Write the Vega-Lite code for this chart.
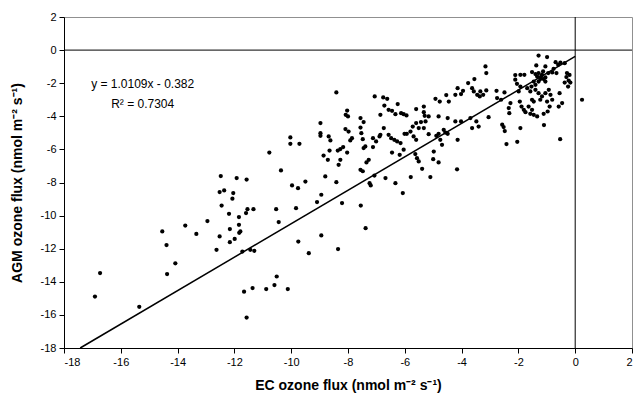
{
  "$schema": "https://vega.github.io/schema/vega-lite/v6.json",
  "autosize": {"type": "none"},
  "padding": {"left": 64, "top": 17, "right": 4, "bottom": 60},
  "width": 568,
  "height": 331,
  "background": "white",
  "config": {
    "view": {"stroke": "#909090", "strokeWidth": 1},
    "axis": {
      "grid": false,
      "domainColor": "black",
      "tickColor": "black",
      "labelColor": "black",
      "titleColor": "black",
      "labelFont": "Liberation Sans",
      "labelFontSize": 11,
      "titleFont": "Liberation Sans",
      "titleFontSize": 14,
      "titleFontWeight": "bold",
      "tickSize": 5,
      "labelPadding": 3
    }
  },
  "datasets": {
    "pts": [
      {"x": -16.91, "y": -14.89}, {"x": -16.73, "y": -13.47}, {"x": -15.35, "y": -15.51},
      {"x": -14.54, "y": -10.96}, {"x": -14.39, "y": -11.78}, {"x": -14.37, "y": -13.53},
      {"x": -14.08, "y": -12.88}, {"x": -13.73, "y": -10.6}, {"x": -13.34, "y": -11.11},
      {"x": -12.95, "y": -10.33}, {"x": -12.63, "y": -12.07}, {"x": -12.52, "y": -11.26},
      {"x": -12.48, "y": -7.61}, {"x": -12.45, "y": -9.39}, {"x": -12.52, "y": -8.58},
      {"x": -12.36, "y": -8.48}, {"x": -12.19, "y": -9.89}, {"x": -12.16, "y": -10.81},
      {"x": -12.16, "y": -11.61}, {"x": -12.07, "y": -8.98}, {"x": -12.04, "y": -8.64},
      {"x": -11.99, "y": -11.41}, {"x": -11.92, "y": -7.73}, {"x": -11.84, "y": -10.09},
      {"x": -11.84, "y": -10.56}, {"x": -11.83, "y": -11.04}, {"x": -11.79, "y": -10.96},
      {"x": -11.72, "y": -12.17}, {"x": -11.66, "y": -14.6}, {"x": -11.59, "y": -9.85},
      {"x": -11.57, "y": -7.82}, {"x": -11.57, "y": -16.16}, {"x": -11.54, "y": -9.61},
      {"x": -11.44, "y": -12.07}, {"x": -11.36, "y": -14.38}, {"x": -11.33, "y": -9.61},
      {"x": -11.3, "y": -12.13}, {"x": -10.88, "y": -14.44}, {"x": -10.77, "y": -6.19},
      {"x": -10.59, "y": -14.2}, {"x": -10.53, "y": -9.61}, {"x": -10.51, "y": -13.68},
      {"x": -10.44, "y": -10.39}, {"x": -10.36, "y": -7.27}, {"x": -10.12, "y": -14.44},
      {"x": -10.03, "y": -5.28}, {"x": -10.03, "y": -5.66}, {"x": -9.97, "y": -8.18},
      {"x": -9.83, "y": -9.55}, {"x": -9.76, "y": -8.34}, {"x": -9.75, "y": -11.57},
      {"x": -9.71, "y": -5.66}, {"x": -9.5, "y": -7.94}, {"x": -9.38, "y": -12.27},
      {"x": -9.09, "y": -9.18}, {"x": -8.97, "y": -4.41}, {"x": -8.97, "y": -5.02},
      {"x": -8.97, "y": -5.18}, {"x": -8.94, "y": -8.74}, {"x": -8.94, "y": -11.2},
      {"x": -8.86, "y": -6.37}, {"x": -8.8, "y": -7.63}, {"x": -8.71, "y": -6.63},
      {"x": -8.68, "y": -5.22}, {"x": -8.65, "y": -6.07}, {"x": -8.62, "y": -5.46},
      {"x": -8.41, "y": -2.56}, {"x": -8.41, "y": -7.98}, {"x": -8.36, "y": -6.07},
      {"x": -8.35, "y": -12.02}, {"x": -8.33, "y": -6.93}, {"x": -8.27, "y": -5.98},
      {"x": -8.27, "y": -6.63}, {"x": -8.21, "y": -9.24}, {"x": -8.17, "y": -5.86},
      {"x": -8.09, "y": -4.77}, {"x": -8.08, "y": -3.91}, {"x": -8.03, "y": -3.65},
      {"x": -8.0, "y": -4.01}, {"x": -8.03, "y": -6.19}, {"x": -7.98, "y": -4.92},
      {"x": -7.92, "y": -5.46}, {"x": -7.86, "y": -5.32}, {"x": -7.56, "y": -4.11},
      {"x": -7.56, "y": -4.68}, {"x": -7.56, "y": -7.23}, {"x": -7.55, "y": -9.39},
      {"x": -7.53, "y": -5.02}, {"x": -7.48, "y": -7.32}, {"x": -7.48, "y": -5.38},
      {"x": -7.45, "y": -4.35}, {"x": -7.45, "y": -5.92}, {"x": -7.39, "y": -5.82},
      {"x": -7.38, "y": -10.76}, {"x": -7.35, "y": -6.79}, {"x": -7.27, "y": -6.63},
      {"x": -7.24, "y": -8.04}, {"x": -7.2, "y": -8.18}, {"x": -7.12, "y": -5.32},
      {"x": -7.12, "y": -5.86}, {"x": -7.07, "y": -7.58}, {"x": -7.06, "y": -2.8},
      {"x": -7.01, "y": -5.52}, {"x": -6.89, "y": -5.22}, {"x": -6.86, "y": -3.91},
      {"x": -6.76, "y": -2.86}, {"x": -6.62, "y": -2.94}, {"x": -6.72, "y": -3.35},
      {"x": -6.57, "y": -3.61}, {"x": -6.45, "y": -3.67}, {"x": -6.33, "y": -3.87},
      {"x": -6.25, "y": -3.26}, {"x": -6.13, "y": -3.81}, {"x": -6.04, "y": -3.87},
      {"x": -5.94, "y": -3.95}, {"x": -6.74, "y": -4.71}, {"x": -6.86, "y": -5.12},
      {"x": -6.57, "y": -5.12}, {"x": -6.48, "y": -5.32}, {"x": -6.37, "y": -5.42},
      {"x": -6.27, "y": -5.52}, {"x": -6.15, "y": -5.62}, {"x": -6.01, "y": -5.06},
      {"x": -5.93, "y": -5.06}, {"x": -6.45, "y": -6.19}, {"x": -6.18, "y": -6.33},
      {"x": -6.04, "y": -6.02}, {"x": -6.68, "y": -7.73}, {"x": -6.33, "y": -8.04},
      {"x": -6.07, "y": -8.64}, {"x": -5.79, "y": -7.67}, {"x": -5.1, "y": -7.67},
      {"x": -5.8, "y": -4.92}, {"x": -5.72, "y": -4.62}, {"x": -5.69, "y": -5.22},
      {"x": -5.6, "y": -5.42}, {"x": -5.6, "y": -4.41}, {"x": -5.43, "y": -4.35},
      {"x": -5.27, "y": -4.31}, {"x": -5.51, "y": -4.71}, {"x": -5.33, "y": -4.71},
      {"x": -5.6, "y": -3.56}, {"x": -5.33, "y": -3.41}, {"x": -5.33, "y": -3.75},
      {"x": -5.3, "y": -3.97}, {"x": -5.16, "y": -4.01}, {"x": -5.63, "y": -6.28},
      {"x": -5.57, "y": -6.53}, {"x": -5.51, "y": -6.73}, {"x": -5.39, "y": -7.17},
      {"x": -4.98, "y": -6.13}, {"x": -5.0, "y": -6.59}, {"x": -4.81, "y": -6.79},
      {"x": -4.92, "y": -2.94}, {"x": -4.77, "y": -3.11}, {"x": -4.54, "y": -2.72},
      {"x": -4.45, "y": -3.11}, {"x": -4.22, "y": -2.7}, {"x": -4.14, "y": -2.3},
      {"x": -4.02, "y": -2.66}, {"x": -3.95, "y": -2.46}, {"x": -3.77, "y": -1.99},
      {"x": -4.81, "y": -4.01}, {"x": -4.49, "y": -4.11}, {"x": -4.22, "y": -4.31},
      {"x": -4.02, "y": -4.31}, {"x": -4.89, "y": -5.18}, {"x": -4.81, "y": -5.06},
      {"x": -4.75, "y": -5.42}, {"x": -4.69, "y": -5.72}, {"x": -4.63, "y": -4.82},
      {"x": -4.57, "y": -4.98}, {"x": -4.49, "y": -5.06}, {"x": -4.14, "y": -5.42},
      {"x": -4.16, "y": -7.2}, {"x": -5.16, "y": -5.08}, {"x": -3.55, "y": -1.75},
      {"x": -3.63, "y": -2.3}, {"x": -3.57, "y": -2.5}, {"x": -3.45, "y": -2.7},
      {"x": -3.34, "y": -2.5}, {"x": -3.13, "y": -2.44}, {"x": -3.24, "y": -2.7},
      {"x": -3.36, "y": -2.8}, {"x": -3.16, "y": -0.99}, {"x": -3.13, "y": -1.39},
      {"x": -2.77, "y": -2.46}, {"x": -2.49, "y": -2.56}, {"x": -2.75, "y": -2.9},
      {"x": -2.61, "y": -3.0}, {"x": -3.05, "y": -4.05}, {"x": -3.48, "y": -4.31},
      {"x": -3.4, "y": -4.62}, {"x": -3.69, "y": -4.11}, {"x": -3.63, "y": -4.71},
      {"x": -2.57, "y": -4.51}, {"x": -2.52, "y": -4.65}, {"x": -2.48, "y": -4.89},
      {"x": -2.42, "y": -5.68}, {"x": -2.04, "y": -5.54}, {"x": -1.93, "y": -4.71},
      {"x": -1.1, "y": -4.53}, {"x": -0.53, "y": -5.38}, {"x": -2.28, "y": -3.2},
      {"x": -2.34, "y": -3.5}, {"x": -2.32, "y": -3.81}, {"x": -2.11, "y": -1.51},
      {"x": -1.93, "y": -1.49}, {"x": -1.79, "y": -1.49}, {"x": -2.11, "y": -1.79},
      {"x": -2.05, "y": -2.04}, {"x": -1.93, "y": -2.2}, {"x": -1.99, "y": -2.5},
      {"x": -1.69, "y": -2.3}, {"x": -1.58, "y": -2.5}, {"x": -1.54, "y": -2.2},
      {"x": -1.95, "y": -3.11}, {"x": -1.89, "y": -3.41}, {"x": -1.81, "y": -3.61},
      {"x": -1.75, "y": -3.75}, {"x": -1.64, "y": -3.41}, {"x": -1.52, "y": -3.61},
      {"x": -1.58, "y": -3.85}, {"x": -1.46, "y": -3.91}, {"x": -1.34, "y": -4.01},
      {"x": -1.52, "y": -3.0}, {"x": -1.46, "y": -3.11}, {"x": -1.23, "y": -3.0},
      {"x": -0.99, "y": -3.11}, {"x": -0.9, "y": -3.41}, {"x": -0.97, "y": -3.71},
      {"x": -1.11, "y": -3.85}, {"x": -0.81, "y": -3.0}, {"x": -0.55, "y": -2.6},
      {"x": -0.46, "y": -3.2}, {"x": -0.58, "y": -3.41}, {"x": -1.4, "y": -2.4},
      {"x": -1.29, "y": -2.6}, {"x": -1.17, "y": -2.8}, {"x": -1.05, "y": -2.6},
      {"x": -0.93, "y": -2.4}, {"x": -0.87, "y": -2.7}, {"x": -1.29, "y": -0.33},
      {"x": -0.99, "y": -0.42}, {"x": -0.69, "y": -0.73}, {"x": -0.52, "y": -0.75},
      {"x": -0.6, "y": -0.89}, {"x": -0.37, "y": -0.79}, {"x": -1.37, "y": -0.93},
      {"x": -1.05, "y": -0.99}, {"x": -0.76, "y": -1.13}, {"x": -1.52, "y": -1.33},
      {"x": -1.29, "y": -1.39}, {"x": -1.13, "y": -1.29}, {"x": -0.95, "y": -1.39},
      {"x": -0.81, "y": -1.35}, {"x": -0.66, "y": -1.39}, {"x": -0.29, "y": -1.39},
      {"x": -0.31, "y": -1.63}, {"x": -0.23, "y": -1.84}, {"x": -0.17, "y": -1.96},
      {"x": -0.37, "y": -1.96}, {"x": -1.34, "y": -1.6}, {"x": -1.23, "y": -1.75},
      {"x": -1.11, "y": -1.75}, {"x": -1.17, "y": -1.49}, {"x": -1.29, "y": -1.9},
      {"x": -1.46, "y": -1.9}, {"x": -1.05, "y": -1.9}, {"x": -1.4, "y": -2.1},
      {"x": 0.24, "y": -3.0}, {"x": -1.2, "y": -1.6}, {"x": -1.05, "y": -1.65},
      {"x": -1.4, "y": -1.45}, {"x": -0.25, "y": -2.2}, {"x": -0.2, "y": -1.5}
    ],
    "fit": [
      {"x": -17.43, "y": -18.0},
      {"x": 0.0, "y": -0.382}
    ],
    "ann": [
      {"x": -15.23, "y": -2.04, "label": "y = 1.0109x - 0.382"},
      {"x": -15.23, "y": -3.24, "label": "R² = 0.7304"}
    ],
    "zero": [{"x": 0, "y": 0}]
  },
  "encoding": {
    "x": {
      "field": "x", "type": "quantitative",
      "scale": {"domain": [-18, 2], "nice": false, "zero": false},
      "axis": {
        "values": [-18, -16, -14, -12, -10, -8, -6, -4, -2, 0, 2],
        "format": "d",
        "labelExpr": "replace(datum.label, '\u2212', '-')",
        "labelOverlap": false,
        "title": "EC ozone flux (nmol m⁻² s⁻¹)",
        "titleY": 30
      }
    },
    "y": {
      "field": "y", "type": "quantitative",
      "scale": {"domain": [-18, 2], "nice": false, "zero": false},
      "axis": {
        "values": [-18, -16, -14, -12, -10, -8, -6, -4, -2, 0, 2],
        "format": "d",
        "labelExpr": "replace(datum.label, '\u2212', '-')",
        "labelOverlap": false,
        "labelBound": false,
        "labelFlush": false,
        "title": "AGM ozone flux (nmol m⁻² s⁻¹)",
        "titleX": -40
      }
    }
  },
  "layer": [
    {
      "data": {"name": "pts"},
      "mark": {"type": "circle", "color": "black", "opacity": 1, "size": 18}
    },
    {
      "data": {"name": "fit"},
      "mark": {"type": "line", "color": "black", "strokeWidth": 1.5}
    },
    {
      "data": {"name": "zero"},
      "mark": {"type": "rule", "color": "black", "strokeWidth": 1},
      "encoding": {"x": {"value": 0}, "x2": {"value": 568}}
    },
    {
      "data": {"name": "zero"},
      "mark": {"type": "rule", "color": "black", "strokeWidth": 1},
      "encoding": {"y": {"value": 0}, "y2": {"value": 331}}
    },
    {
      "data": {"name": "ann"},
      "mark": {"type": "text", "font": "Liberation Sans", "fontSize": 12, "align": "center", "baseline": "middle", "color": "black"},
      "encoding": {"text": {"field": "label"}}
    }
  ]
}
